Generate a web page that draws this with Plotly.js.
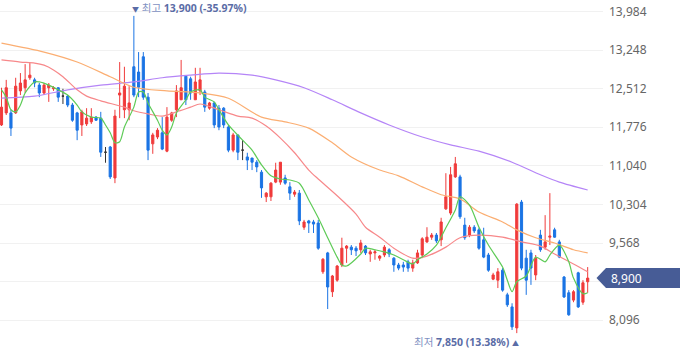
<!DOCTYPE html>
<html><head><meta charset="utf-8">
<script src="https://cdn.plot.ly/plotly-3.0.1.min.js"></script>
<style>html,body{margin:0;padding:0;background:#fff}#chart{width:680px;height:358px}</style>
</head><body><div id="chart"></div>
<script>
// ---- daily OHLC (KRW) ----
const openP = [11820,12050,12050,12050,12470,12530,12720,12680,12580,12430,
12530,12510,12530,12370,12370,12200,12050,11820,11840,11880,
11970,11950,11300,11400,10810,12390,12110,12110,12930,12830,
13120,12350,11460,11590,11670,11320,11910,12110,12300,12750,
12700,12300,12470,12450,12140,12240,12140,12140,11780,11340,
11630,11340,11210,11190,11110,10920,10450,10450,10730,10730,
10810,10640,10500,10520,9870,9990,9970,9950,9020,9380,
8640,8860,9150,9470,9490,9470,9440,9510,9360,9380,
9280,9340,9440,9280,9150,9150,9210,9090,9190,9340,
9590,9680,9720,9630,10220,10140,10830,10830,9910,9720,
9870,9820,9630,9340,8880,8860,9050,8580,8350,7950,
10350,9280,9380,8960,9720,9490,9680,9820,9590,8920,
8620,8480,9000,8440,8830];
const highP = [12530,12680,12110,12720,12810,12980,13000,12720,12620,12620,
12620,12560,12540,12510,12390,12240,12070,12110,12140,12140,
11990,12070,11400,11420,12110,13020,12930,12560,13900,13210,
13210,12430,11670,11760,11970,12160,12070,12580,13060,12770,
12740,12910,12910,12490,12260,12260,12200,12160,11820,11670,
11630,11530,11290,11190,11150,10960,10540,10730,11100,11110,
10870,10730,10580,10580,10010,10010,10010,10010,9280,9400,
8960,9150,9670,9530,9530,9510,9630,9530,9440,9440,
9340,9530,9470,9300,9190,9210,9250,9250,9440,9680,
9870,9760,9760,10050,10900,11020,11210,10870,10050,9910,
9910,9860,9860,9380,9000,9090,9090,8620,8420,10330,
10390,9440,9440,9340,9820,10100,10520,9860,9630,8940,
8670,8670,9020,8860,9110];
const lowP = [11800,12010,11610,12030,12390,12430,12680,12540,12350,12390,
12260,12470,12260,12220,12160,11880,11530,11610,11800,11840,
11900,11210,11100,10790,10710,11950,11950,11910,12350,12350,
12300,11150,11270,11550,11340,11300,11880,11970,12300,12200,
12300,12300,12390,12070,12110,11760,11720,11760,11300,11300,
11150,11150,10960,10960,10920,10430,10350,10370,10710,10680,
10680,10390,10450,9910,9820,9760,9760,9440,8980,8310,
8540,8830,9110,9190,9340,9320,9380,9340,9210,9250,
9230,9300,9300,9020,9050,9020,9020,9020,9170,9280,
9570,9630,9570,9510,10200,10100,10810,10030,9630,9680,
9760,9440,9280,9020,8860,8710,8640,8350,7910,7850,
9050,8580,8770,8860,9400,9440,9530,9670,9280,8520,
8180,8440,8330,8390,8620];
const closeP = [12160,12530,11760,12560,12620,12680,12770,12620,12430,12580,
12580,12530,12350,12370,12200,11910,11720,12070,11950,11970,
11910,11300,11300,10830,11990,12430,12560,12240,12390,12540,
12350,11340,11630,11720,11360,11970,12050,12470,12530,12300,
12430,12640,12680,12160,12240,11820,11780,11820,11340,11630,
11300,11340,11150,11110,11020,10620,10520,10710,10960,11110,
10710,10520,10540,9990,9970,9950,9930,9470,9260,8730,
8940,9130,9470,9510,9440,9420,9570,9380,9400,9400,
9320,9490,9360,9150,9090,9110,9090,9190,9380,9650,
9680,9720,9610,9970,10450,10870,11080,10070,9670,9870,
9800,9470,9300,9050,8960,9020,8670,8390,7970,10310,
9090,8860,9090,9280,9440,9590,9700,9680,9300,8540,
8200,8640,8350,8810,8900];

// ---- moving averages (day index, value) ----
const ma5Day = [0,1,2,3,4,5,7,8,10,12,14,16,17,19,21,22,23,24,25,26,28,29,30,31,33,34,35,36,37,39,40,42,43,45,46,48,51,53,55,57,59,61,63,65,67,69,71,72,73,76,77,79,81,83,85,87,88,90,92,94,96,97,99,101,103,106,107,108,109,111,113,115,116,118,120,121,123,124];
const ma5Val = [12490,12350,12110,12070,12200,12430,12640,12640,12580,12490,12390,12200,12070,11970,11950,11820,11670,11480,11500,11780,12160,12450,12450,12240,11910,11720,11630,11780,12050,12300,12450,12490,12350,12260,12110,11820,11530,11340,11060,10850,10790,10770,10710,10390,10050,9670,9300,9150,9130,9360,9470,9440,9400,9340,9250,9170,9250,9360,9530,9860,10200,10450,10290,9870,9530,9110,8860,8640,8830,8940,9300,9210,9340,9530,9210,8900,8600,8620];
const ma20Day = [0,4,7,9,11,13,16,18,21,26,28,31,34,37,40,42,46,50,53,56,59,62,65,67,71,75,77,80,83,87,90,94,97,101,106,110,114,117,121,124];
const ma20Val = [13060,13020,13000,12960,12870,12740,12490,12370,12280,12160,12090,12030,11990,12070,12160,12220,12110,11990,11950,11800,11570,11290,10960,10790,10470,10120,9870,9680,9470,9280,9320,9490,9670,9720,9680,9590,9510,9360,9170,9020];
const ma60Day = [0,9,16,23,28,35,42,48,55,60,65,70,74,80,84,89,93,97,101,106,109,113,117,121,124];
const ma60Val = [13380,13210,13020,12740,12540,12470,12430,12330,11970,11880,11760,11480,11210,10960,10850,10640,10490,10410,10160,9970,9820,9670,9570,9440,9380];
const ma120Day = [0,7,14,21,28,34,40,46,53,58,64,70,76,82,89,95,101,108,114,118,124];
const ma120Val = [12330,12370,12490,12580,12640,12720,12770,12810,12770,12680,12530,12300,12050,11820,11590,11440,11320,11110,10870,10730,10580];

// ---- y-axis ticks ----
const tickVals = [8096,8832,9568,10304,11040,11776,12512,13248,13984];
const tickText = ['8,096','','9,568','10,304','11,040','11,776','12,512','13,248','13,984'];

const UP = '#f03b3b', DOWN = '#1b74e4', DOJI = '#333333';
const n = closeP.length;
function pick(cond){
  const o={x:[],open:[],high:[],low:[],close:[]};
  for(let i=0;i<n;i++) if(cond(i)){o.x.push(i);o.open.push(openP[i]);o.high.push(highP[i]);o.low.push(lowP[i]);o.close.push(closeP[i]);}
  return o;
}
function candle(d,color){
  return {type:'candlestick',x:d.x,open:d.open,high:d.high,low:d.low,close:d.close,
    increasing:{line:{color:color,width:1},fillcolor:color},
    decreasing:{line:{color:color,width:1},fillcolor:color},
    whiskerwidth:0,hoverinfo:'skip',showlegend:false};
}
function ma(x,y,color){
  return {type:'scatter',mode:'lines',x:x,y:y,line:{color:color,width:1.2,shape:'spline',smoothing:0.8},hoverinfo:'skip',showlegend:false};
}
const data = [
  candle(pick(i=>closeP[i]>openP[i]),UP),
  candle(pick(i=>closeP[i]<openP[i]),DOWN),
  candle(pick(i=>closeP[i]===openP[i]),DOJI),
  ma(ma120Day,ma120Val,'#b585f7'),
  ma(ma60Day,ma60Val,'#fbae72'),
  ma(ma20Day,ma20Val,'#f7888a'),
  ma(ma5Day,ma5Val,'#5ecb57')
];

let hiIdx=0, loIdx=0;
for(let i=1;i<n;i++){ if(highP[i]>highP[hiIdx]) hiIdx=i; if(lowP[i]<lowP[loIdx]) loIdx=i; }
const hiVal=highP[hiIdx], loVal=lowP[loIdx], last=closeP[n-1];
const fmt=v=>v.toLocaleString('en-US');
const pct=(a,b)=>((a-b)/b*100).toFixed(2);

const yMin=7376, yMax=14203, H=358, PW=603;
const yc=(last-yMin)/(yMax-yMin), hh=10/H;
const tip=596.5/PW, bl=606/PW, br=682/PW;

const FONT='"Noto Sans", "Noto Sans CJK KR", sans-serif';
const TRI='<span style="font-size:7px">';
const layout = {
  width:680,height:358,margin:{l:0,r:77,t:0,b:0},
  paper_bgcolor:'#fff',plot_bgcolor:'#fff',showlegend:false,
  font:{family:FONT},
  boxgap:0.35,
  xaxis:{range:[-0.317,127.24],visible:false,rangeslider:{visible:false},fixedrange:true},
  yaxis:{side:'right',range:[yMin,yMax],tickvals:tickVals,ticktext:tickText,
    showgrid:true,gridcolor:'#f1f1f1',gridwidth:1,zeroline:false,showline:false,ticks:'',
    ticklabelstandoff:5,tickfont:{size:12,color:'#666666',family:FONT},fixedrange:true},
  shapes:[{type:'path',xref:'paper',yref:'paper',
    path:`M ${tip},${yc} L ${bl},${yc+hh} L ${br},${yc+hh} L ${br},${yc-hh} L ${bl},${yc-hh} Z`,
    fillcolor:'#475c96',line:{width:0}}],
  annotations:[
    {x:hiIdx,y:hiVal,xref:'x',yref:'y',xanchor:'left',yanchor:'bottom',xshift:-3,yshift:0,borderpad:0,showarrow:false,
     text:`${TRI}▼</span> <span style="color:#7f91c2">최고</span> <b>${fmt(hiVal)} (${pct(last,hiVal)}%)</b>`,
     font:{size:10.5,color:'#5a6ca6',family:FONT}},
    {x:loIdx,y:loVal,xref:'x',yref:'y',xanchor:'right',yanchor:'top',xshift:3,yshift:-1,borderpad:0,showarrow:false,
     text:`<span style="color:#7f91c2">최저</span> <b>${fmt(loVal)} (${pct(last,loVal)}%)</b> ${TRI}▲</span>`,
     font:{size:10.5,color:'#5a6ca6',family:FONT}},
    {x:1.0099,y:last,xref:'paper',yref:'y',xanchor:'left',yanchor:'middle',showarrow:false,
     text:fmt(last),font:{size:12,color:'#ffffff',family:FONT}}
  ]
};
Plotly.newPlot('chart',data,layout,{displayModeBar:false,staticPlot:true});
</script></body></html>
